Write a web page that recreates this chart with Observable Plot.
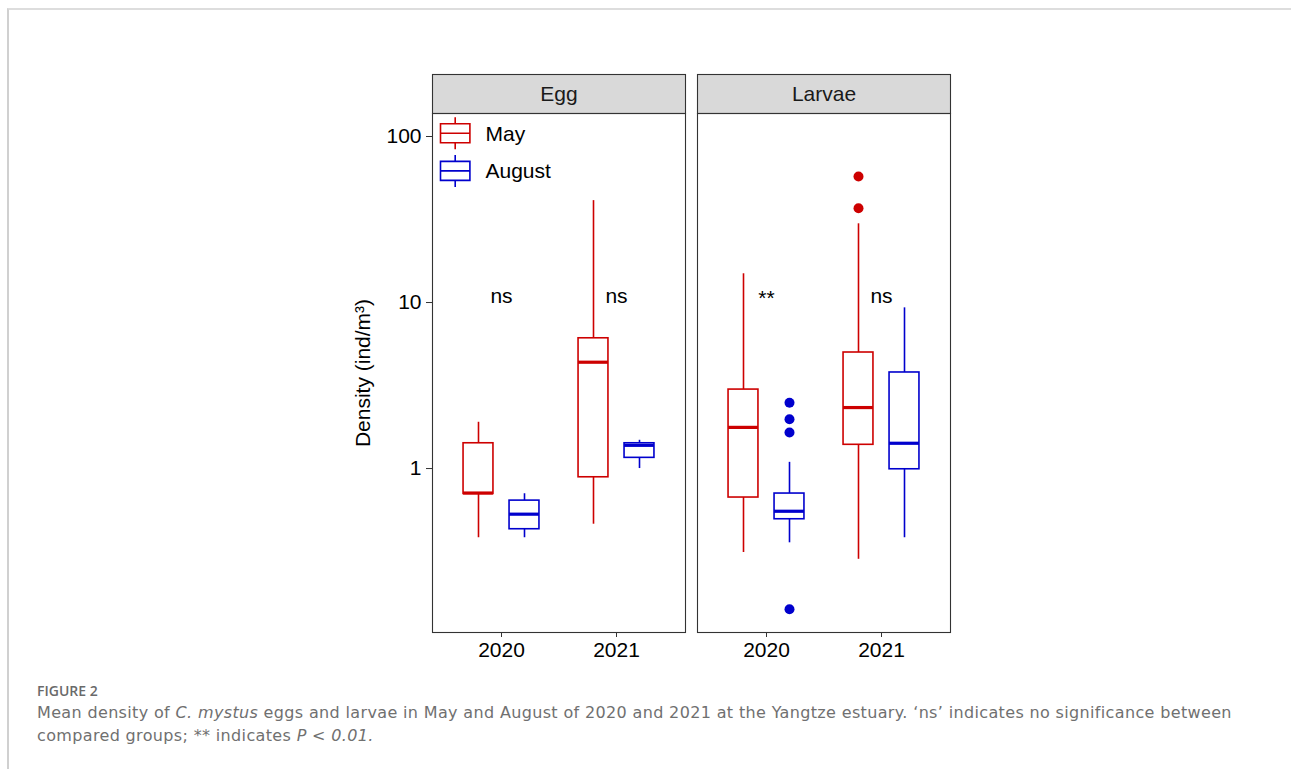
<!DOCTYPE html>
<html><head><meta charset="utf-8">
<script src="https://cdn.jsdelivr.net/npm/d3@7"></script>
<script src="https://cdn.jsdelivr.net/npm/@observablehq/plot@0.6"></script>
<style>
html,body{margin:0;padding:0;background:#fff;}
#card{position:absolute;left:7px;top:8px;width:1284px;height:761px;border-top:2px solid #dddddd;border-left:2px solid #d0d0d0;box-sizing:border-box;}
#chart{position:absolute;left:0;top:0;}
#cap{position:absolute;left:37px;top:681px;width:1228px;color:#707070;}
#cap .fig{font-family:"Open Sans",sans-serif;font-size:14px;font-weight:600;color:#6a6a6a;line-height:20px;}
#cap .txt{font-family:"DejaVu Sans",sans-serif;font-size:16px;letter-spacing:0.35px;line-height:23px;}
</style></head>
<body>
<div id="card"></div>
<div id="chart"></div>
<div id="cap"><div class="fig">FIGURE 2</div><div class="txt">Mean density of <i>C. mystus</i> eggs and larvae in May and August of 2020 and 2021 at the Yangtze estuary. ‘ns’ indicates no significance between compared groups; ** indicates <i>P &lt; 0.01.</i></div></div>
<script>
// ---- data ----
const panels = ["Egg", "Larvae"];
const years = ["2020", "2021"];
const months = ["May", "August"];
const colors = ["#CD0000", "#0000CD"];

const boxPanel = ["Egg", "Egg", "Egg", "Egg", "Larvae", "Larvae", "Larvae", "Larvae"];
const boxYear = ["2020", "2020", "2021", "2021", "2020", "2020", "2021", "2021"];
const boxMonth = ["May", "August", "May", "August", "May", "August", "May", "August"];
const lower = [0.383, 0.383, 0.462, 1.00, 0.312, 0.357, 0.284, 0.383];
const q1 = [0.703, 0.431, 0.886, 1.16, 0.669, 0.495, 1.39, 0.99];
const median = [0.712, 0.531, 4.37, 1.38, 1.77, 0.553, 2.33, 1.42];
const q3 = [1.42, 0.641, 6.09, 1.42, 2.99, 0.707, 5.00, 3.79];
const upper = [1.90, 0.705, 41.1, 1.48, 14.9, 1.09, 29.8, 9.29];

const outPanel = ["Larvae", "Larvae", "Larvae", "Larvae", "Larvae", "Larvae"];
const outYear = ["2020", "2020", "2020", "2020", "2021", "2021"];
const outMonth = ["August", "August", "August", "August", "May", "May"];
const outValue = [2.49, 1.98, 1.65, 0.142, 57.4, 37.0];

const annPanel = ["Egg", "Egg", "Larvae", "Larvae"];
const annYear = ["2020", "2021", "2020", "2021"];
const annText = ["ns", "ns", "**", "ns"];
const annValue = [10.9, 10.9, 10.6, 10.9];

const yTicks = [1, 10, 100];

// ---- tables ----
const dodge = 0.2, halfW = 0.13;
const xc = (year, month) => years.indexOf(year) + 1 + (month === "May" ? -dodge : dodge);
const boxes = boxPanel.map((p, i) => ({panel: p, year: boxYear[i], month: boxMonth[i],
  lo: lower[i], q1: q1[i], med: median[i], q3: q3[i], hi: upper[i], x: xc(boxYear[i], boxMonth[i])}));
const outs = outPanel.map((p, i) => ({panel: p, month: outMonth[i], v: outValue[i], x: xc(outYear[i], outMonth[i])}));
const anns = annPanel.map((p, i) => ({panel: p, text: annText[i], v: annValue[i], x: years.indexOf(annYear[i]) + 1}));

const boxKey = {draw(ctx) {
  const w = 14.7, h = 9.5, t = 16;
  ctx.moveTo(0, -t); ctx.lineTo(0, -h);
  ctx.moveTo(-w, -h); ctx.lineTo(w, -h); ctx.lineTo(w, h); ctx.lineTo(-w, h); ctx.closePath();
  ctx.moveTo(-w, 0); ctx.lineTo(w, 0);
  ctx.moveTo(0, h); ctx.lineTo(0, t);
}};

const fs = 21;
const chart = Plot.plot({
  width: 1291, height: 672,
  marginLeft: 432, marginRight: 340, marginTop: 113, marginBottom: 40,
  style: {fontFamily: "'Liberation Sans', Arial, sans-serif", fontSize: fs + "px", color: "black", background: "transparent"},
  fx: {domain: panels, paddingInner: 0.0452, paddingOuter: 0, axis: null, label: null},
  x: {type: "linear", domain: [0.4, 2.6]},
  y: {type: "log", domain: [0.1029, 137.6]},
  color: {domain: months, range: colors},
  marks: [
    Plot.frame({fill: "#D9D9D9", stroke: "#333333", strokeWidth: 1.1, insetTop: -39, insetBottom: 519}),
    Plot.text(panels, {fx: d => d, text: d => d, frameAnchor: "top", dy: -19.5, lineAnchor: "middle", fontSize: fs, fill: "#1a1a1a"}),
    Plot.ruleX(boxes, {fx: "panel", x: "x", y1: "q3", y2: "hi", stroke: "month", strokeWidth: 1.6}),
    Plot.ruleX(boxes, {fx: "panel", x: "x", y1: "lo", y2: "q1", stroke: "month", strokeWidth: 1.6}),
    Plot.rect(boxes, {fx: "panel", x1: d => d.x - halfW, x2: d => d.x + halfW, y1: "q1", y2: "q3", fill: "white", stroke: "month", strokeWidth: 1.6}),
    Plot.ruleY(boxes, {fx: "panel", y: "med", x1: d => d.x - halfW, x2: d => d.x + halfW, stroke: "month", strokeWidth: 3.2}),
    Plot.dot(outs, {fx: "panel", x: "x", y: "v", fill: "month", r: 5}),
    Plot.text(anns, {fx: "panel", x: "x", y: "v", text: "text", fontSize: fs, fill: "black"}),
    Plot.dot([0], {fx: () => "Egg", frameAnchor: "top-left", dx: 22.7, dy: 19.7, symbol: boxKey, stroke: colors[0], fill: "none", strokeWidth: 1.6}),
    Plot.dot([0], {fx: () => "Egg", frameAnchor: "top-left", dx: 22.7, dy: 57.4, symbol: boxKey, stroke: colors[1], fill: "none", strokeWidth: 1.6}),
    Plot.text([months[0]], {fx: () => "Egg", text: d => d, frameAnchor: "top-left", dx: 53, dy: 21, textAnchor: "start", lineAnchor: "middle", fontSize: fs, fill: "black"}),
    Plot.text([months[1]], {fx: () => "Egg", text: d => d, frameAnchor: "top-left", dx: 53, dy: 58, textAnchor: "start", lineAnchor: "middle", fontSize: fs, fill: "black"}),
    Plot.text(["Density (ind/m³)"], {fx: () => "Egg", text: d => d, frameAnchor: "left", textAnchor: "middle", rotate: -90, dx: -69, lineAnchor: "middle", fontSize: fs, fill: "black"}),
    Plot.axisY({ticks: yTicks, tickFormat: d => String(d), tickSize: 6, tickPadding: 5, label: null, stroke: "#333333", fill: "black", fontSize: fs}),
    Plot.axisX({ticks: [1, 2], tickFormat: d => years[d - 1], tickSize: 5, tickPadding: 5, label: null, stroke: "#333333", fill: "black", fontSize: fs}),
    Plot.frame({stroke: "#333333", strokeWidth: 1.1})
  ]
});
document.getElementById("chart").appendChild(chart);
</script>
</body></html>
